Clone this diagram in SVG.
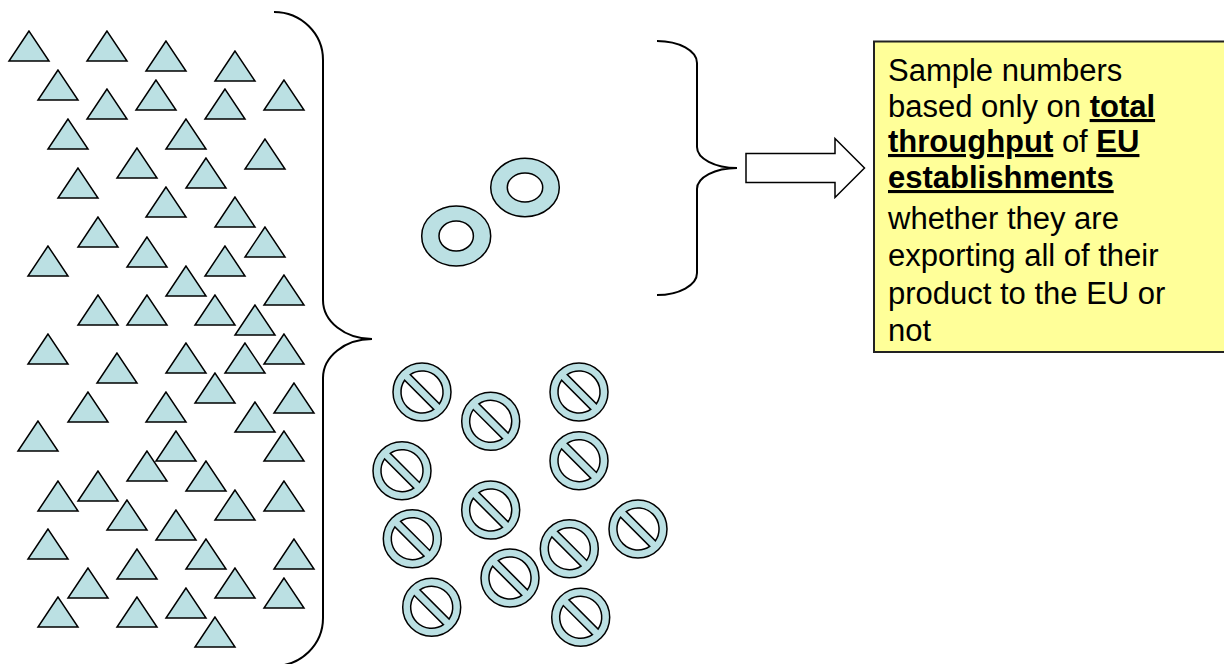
<svg xmlns="http://www.w3.org/2000/svg" width="1224" height="664" viewBox="0 0 1224 664">
<style>
.sh{fill:#BBE0E3;stroke:#000;stroke-width:1.5;stroke-linejoin:miter}
.br{fill:none;stroke:#000;stroke-width:2}
.txt{font-family:"Liberation Sans",Arial,sans-serif;font-size:31px;fill:#000}
.b{font-weight:bold;text-decoration:underline}
</style>
<defs>
<polygon id="tri" class="sh" points="0,0 -20,30 20,30"/>
<path id="no" class="sh" fill-rule="evenodd" transform="rotate(45)" d="M-29,0 A29,29 0 1 0 29,0 A29,29 0 1 0 -29,0 Z M-20.62,-4 A21,21 0 0 1 20.62,-4 Z M20.62,4 A21,21 0 0 1 -20.62,4 Z"/>
</defs>
<rect width="1224" height="664" fill="#fff"/>
<g id="triangles">
<use href="#tri" x="29" y="31"/><use href="#tri" x="107" y="31"/><use href="#tri" x="166" y="41"/><use href="#tri" x="235" y="51"/>
<use href="#tri" x="58" y="70"/><use href="#tri" x="107" y="89"/><use href="#tri" x="156" y="80"/><use href="#tri" x="225" y="89"/>
<use href="#tri" x="284" y="80"/><use href="#tri" x="68" y="119"/><use href="#tri" x="186" y="119"/><use href="#tri" x="265" y="139"/>
<use href="#tri" x="137" y="148"/><use href="#tri" x="206" y="158"/><use href="#tri" x="78" y="168"/><use href="#tri" x="166" y="187"/>
<use href="#tri" x="235" y="197"/><use href="#tri" x="98" y="217"/><use href="#tri" x="265" y="227"/><use href="#tri" x="48" y="246"/>
<use href="#tri" x="147" y="237"/><use href="#tri" x="225" y="246"/><use href="#tri" x="186" y="266"/><use href="#tri" x="284" y="275"/>
<use href="#tri" x="98" y="295"/><use href="#tri" x="147" y="295"/><use href="#tri" x="215" y="295"/><use href="#tri" x="255" y="305"/>
<use href="#tri" x="48" y="334"/><use href="#tri" x="117" y="353"/><use href="#tri" x="186" y="343"/><use href="#tri" x="245" y="343"/>
<use href="#tri" x="284" y="334"/><use href="#tri" x="215" y="373"/><use href="#tri" x="294" y="383"/><use href="#tri" x="88" y="392"/>
<use href="#tri" x="166" y="392"/><use href="#tri" x="255" y="402"/><use href="#tri" x="38" y="421"/><use href="#tri" x="176" y="431"/>
<use href="#tri" x="284" y="431"/><use href="#tri" x="147" y="451"/><use href="#tri" x="206" y="461"/><use href="#tri" x="98" y="471"/>
<use href="#tri" x="58" y="481"/><use href="#tri" x="235" y="490"/><use href="#tri" x="284" y="481"/><use href="#tri" x="127" y="500"/>
<use href="#tri" x="176" y="510"/><use href="#tri" x="48" y="529"/><use href="#tri" x="206" y="539"/><use href="#tri" x="294" y="539"/>
<use href="#tri" x="137" y="549"/><use href="#tri" x="88" y="568"/><use href="#tri" x="235" y="568"/><use href="#tri" x="186" y="588"/>
<use href="#tri" x="284" y="578"/><use href="#tri" x="58" y="597"/><use href="#tri" x="137" y="597"/><use href="#tri" x="215" y="617"/>
</g>
<g id="donuts">
<path class="sh" fill-rule="evenodd" d="M490.7,187.5 a34.3,29.2 0 1 0 68.6,0 a34.3,29.2 0 1 0 -68.6,0 Z M507.3,187.5 a17.7,14.5 0 1 0 35.4,0 a17.7,14.5 0 1 0 -35.4,0 Z"/>
<path class="sh" fill-rule="evenodd" d="M421.7,236 a34.5,30 0 1 0 69,0 a34.5,30 0 1 0 -69,0 Z M439,236 a17.2,15 0 1 0 34.4,0 a17.2,15 0 1 0 -34.4,0 Z"/>
</g>
<g id="no-symbols">
<use href="#no" transform="translate(422,392)"/><use href="#no" transform="translate(490.7,421.3)"/><use href="#no" transform="translate(579,392)"/>
<use href="#no" transform="translate(579,460.7)"/><use href="#no" transform="translate(402,470.7)"/><use href="#no" transform="translate(490.7,510)"/>
<use href="#no" transform="translate(412.3,538.7)"/><use href="#no" transform="translate(569.3,548.7)"/><use href="#no" transform="translate(638,529)"/>
<use href="#no" transform="translate(510,578)"/><use href="#no" transform="translate(431.7,607.3)"/><use href="#no" transform="translate(580.7,617.3)"/>
</g>
<g id="connectors">
<path id="left-brace" class="br" d="M274,12 A49,48 0 0 1 323,60 L323,300 A49,39 0 0 0 372,339 A49,39 0 0 0 323,378 L323,618 A49,48 0 0 1 274,666"/>
<path id="right-brace" class="br" stroke-width="1.5" d="M657,41 A40,22 0 0 1 697,63 L697,147 A40,21 0 0 0 737,168 A40,21 0 0 0 697,189 L697,273 A40,22 0 0 1 657,295"/>
<polygon id="block-arrow" fill="#fff" stroke="#000" stroke-width="1.5" points="746,153.5 835,153.5 835,138.5 864.5,168 835,197.5 835,182.5 746,182.5"/>
</g>
<g id="note">
<rect x="874" y="41.5" width="360" height="310.5" fill="#FFFF99" stroke="#222" stroke-width="2"/>
<text class="txt" x="888" y="81">Sample numbers</text>
<text class="txt" x="888" y="117">based only on <tspan class="b">total</tspan></text>
<text class="txt" x="888" y="152"><tspan class="b">throughput</tspan> of <tspan class="b">EU</tspan></text>
<text class="txt" x="888" y="188"><tspan class="b">establishments</tspan></text>
<text class="txt" x="888" y="229">whether they are</text>
<text class="txt" x="888" y="266">exporting all of their</text>
<text class="txt" x="888" y="303.5">product to the EU or</text>
<text class="txt" x="888" y="341">not</text>
</g>
</svg>
